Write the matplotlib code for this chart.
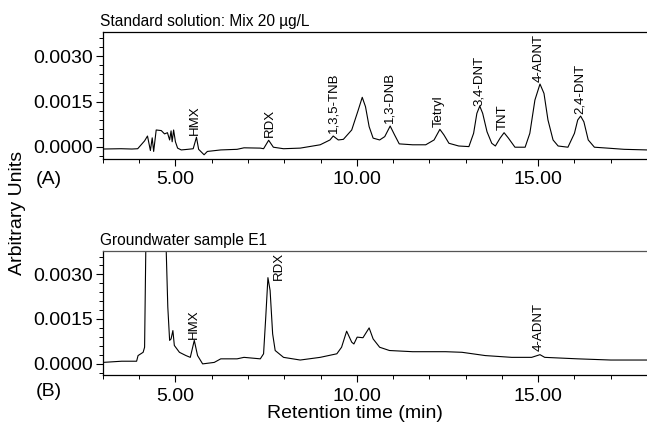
import matplotlib
matplotlib.use("Agg")
import matplotlib.pyplot as plt
from matplotlib.ticker import MultipleLocator, FormatStrFormatter

plt.rcParams['font.family'] = ['Liberation Sans', 'DejaVu Sans']

# --- DATA ---
# Panel A: standard solution, time (min) / signal (AU)
time_a = [3.0, 3.5, 3.8, 3.96, 4.15, 4.23, 4.31, 4.36, 4.40, 4.47, 4.61, 4.70,
          4.78, 4.84, 4.88, 4.91, 4.95, 5.00, 5.06, 5.16, 5.34, 5.49, 5.58,
          5.64, 5.79, 5.88, 6.25, 6.70, 6.89, 7.34, 7.43, 7.57, 7.70, 7.98,
          8.44, 8.99, 9.26, 9.35, 9.49, 9.63, 9.86, 10.04, 10.15, 10.24, 10.34,
          10.45, 10.63, 10.77, 10.92, 11.04, 11.17, 11.54, 11.90, 12.13, 12.29,
          12.40, 12.54, 12.81, 13.09, 13.22, 13.31, 13.39, 13.47, 13.59, 13.72,
          13.82, 13.95, 14.06, 14.18, 14.36, 14.64, 14.77, 14.91, 15.05, 15.16,
          15.27, 15.41, 15.55, 15.82, 16.00, 16.09, 16.17, 16.26, 16.38, 16.55,
          16.91, 17.37, 18.0]
signal_a = [-0.00007, -0.00006, -0.00007, -0.00006, 0.00020, 0.00036, -0.00012,
            0.00030, -0.00015, 0.00056, 0.00054, 0.00043, 0.00047, 0.00023,
            0.00053, 0.00017, 0.00056, 0.00017, -0.00004, -0.00010, -0.00008,
            -0.00006, 0.00032, -0.00008, -0.00026, -0.00015, -0.00010, -0.00008,
            -0.00003, -0.00004, -0.00006, 0.00022, -0.00001, -0.00006, -0.00004,
            0.00007, 0.00023, 0.00036, 0.00023, 0.00025, 0.00056, 0.00122,
            0.00164, 0.00133, 0.00067, 0.00029, 0.00023, 0.00034, 0.00069,
            0.00040, 0.00010, 0.00007, 0.00007, 0.00023, 0.00058, 0.00040,
            0.00012, 0.00003, 0.00001, 0.00045, 0.00111, 0.00135, 0.00111,
            0.00050, 0.00012, 0.00003, 0.00029, 0.00047, 0.00029, -0.00001,
            -0.00001, 0.00045, 0.00155, 0.00208, 0.00177, 0.00089, 0.00023,
            0.00003, -0.00001, 0.00045, 0.00089, 0.00102, 0.00083, 0.00023,
            -0.00001, -0.00004, -0.00008, -0.00010]

# Panel B: groundwater sample E1
time_b = [3.0, 3.52, 3.93, 3.97, 4.11, 4.15, 4.19, 4.45, 4.73, 4.79, 4.84,
          4.88, 4.93, 4.97, 5.11, 5.29, 5.41, 5.52, 5.61, 5.75, 6.07, 6.25,
          6.70, 6.89, 7.34, 7.43, 7.49, 7.55, 7.61, 7.68, 7.75, 7.98, 8.44,
          8.99, 9.45, 9.58, 9.72, 9.86, 9.92, 10.01, 10.17, 10.34, 10.45,
          10.63, 10.90, 11.54, 12.45, 12.90, 13.54, 14.27, 14.82, 15.05,
          15.18, 16.09, 17.00, 18.0]
signal_b = [0.00004, 0.00008, 0.00008, 0.00027, 0.00038, 0.00055, 0.0045,
            0.0080, 0.0045, 0.00190, 0.00078, 0.00083, 0.00111, 0.00061,
            0.00038, 0.00027, 0.00021, 0.00078, 0.00027, -0.00001, 0.00004,
            0.00016, 0.00016, 0.00021, 0.00016, 0.00033, 0.00156, 0.00289,
            0.00246, 0.00100, 0.00044, 0.00021, 0.00012, 0.00021, 0.00033,
            0.00055, 0.00109, 0.00072, 0.00066, 0.00089, 0.00087, 0.00120,
            0.00083, 0.00055, 0.00044, 0.00040, 0.00040, 0.00038, 0.00027,
            0.00021, 0.00021, 0.00030, 0.00021, 0.00016, 0.00012, 0.00012]

# peak labels: name, time, height of label base
labels_a = ["HMX", "RDX", "1,3,5-TNB", "1,3-DNB", "Tetryl", "3,4-DNT", "TNT",
            "4-ADNT", "2,4-DNT"]
label_t_a = [5.55, 7.59, 9.35, 10.90, 12.27, 13.38, 14.02, 15.02, 16.14]
label_y_a = [0.00040, 0.00032, 0.00045, 0.00078, 0.00067, 0.00135, 0.00056,
             0.00215, 0.00109]

labels_b = ["HMX", "RDX", "4-ADNT"]
label_t_b = [5.51, 7.85, 15.02]
label_y_b = [0.00083, 0.00280, 0.00044]

fig = plt.figure(figsize=(6.47, 4.24), dpi=100)
ax_a = fig.add_axes([0.159, 0.625, 0.841, 0.2995])
ax_b = fig.add_axes([0.159, 0.1144, 0.841, 0.2946])

panels = [
    (ax_a, time_a, signal_a, labels_a, label_t_a, label_y_a,
     "Standard solution: Mix 20 \u00b5g/L"),
    (ax_b, time_b, signal_b, labels_b, label_t_b, label_y_b,
     "Groundwater sample E1"),
]

for ax, t, s, names, lt, ly, title in panels:
    ax.plot(t, s, color='black', lw=0.8)
    for name, x, y in zip(names, lt, ly):
        ax.text(x, y, name, rotation=90, ha='center', va='bottom', fontsize=9.5)
    ax.set_xlim(3.0, 18.0)
    ax.set_ylim(-0.0004, 0.0038)
    ax.xaxis.set_major_locator(MultipleLocator(5))
    ax.xaxis.set_minor_locator(MultipleLocator(1))
    ax.xaxis.set_major_formatter(FormatStrFormatter('%.2f'))
    ax.yaxis.set_major_locator(MultipleLocator(0.0015))
    ax.yaxis.set_minor_locator(MultipleLocator(0.0003))
    ax.yaxis.set_major_formatter(FormatStrFormatter('%.4f'))
    ax.spines['right'].set_visible(False)
    for sp in ['left', 'bottom', 'top']:
        ax.spines[sp].set_linewidth(0.9)
    ax.tick_params(which='major', direction='out', length=5, width=0.8,
                   labelsize=14, pad=2)
    ax.tick_params(axis='x', which='major', pad=4)
    ax.tick_params(which='minor', direction='out', length=3, width=0.7)
    ax.text(-0.006, 1.02, title, transform=ax.transAxes, ha='left',
            va='bottom', fontsize=11.2)

ax_b.spines['top'].set_color('#555555')

fig.text(36 / 647, 1 - 180 / 424, "(A)", fontsize=14, ha='left', va='center')
fig.text(36 / 647, 1 - 392 / 424, "(B)", fontsize=14, ha='left', va='center')
fig.text(18 / 647, 1 - 213 / 424, "Arbitrary Units", fontsize=14,
         rotation=90, ha='center', va='center')
fig.text(355 / 647, 1 - 413 / 424, "Retention time (min)", fontsize=14,
         ha='center', va='center')

fig.savefig("out.png", dpi=100)
